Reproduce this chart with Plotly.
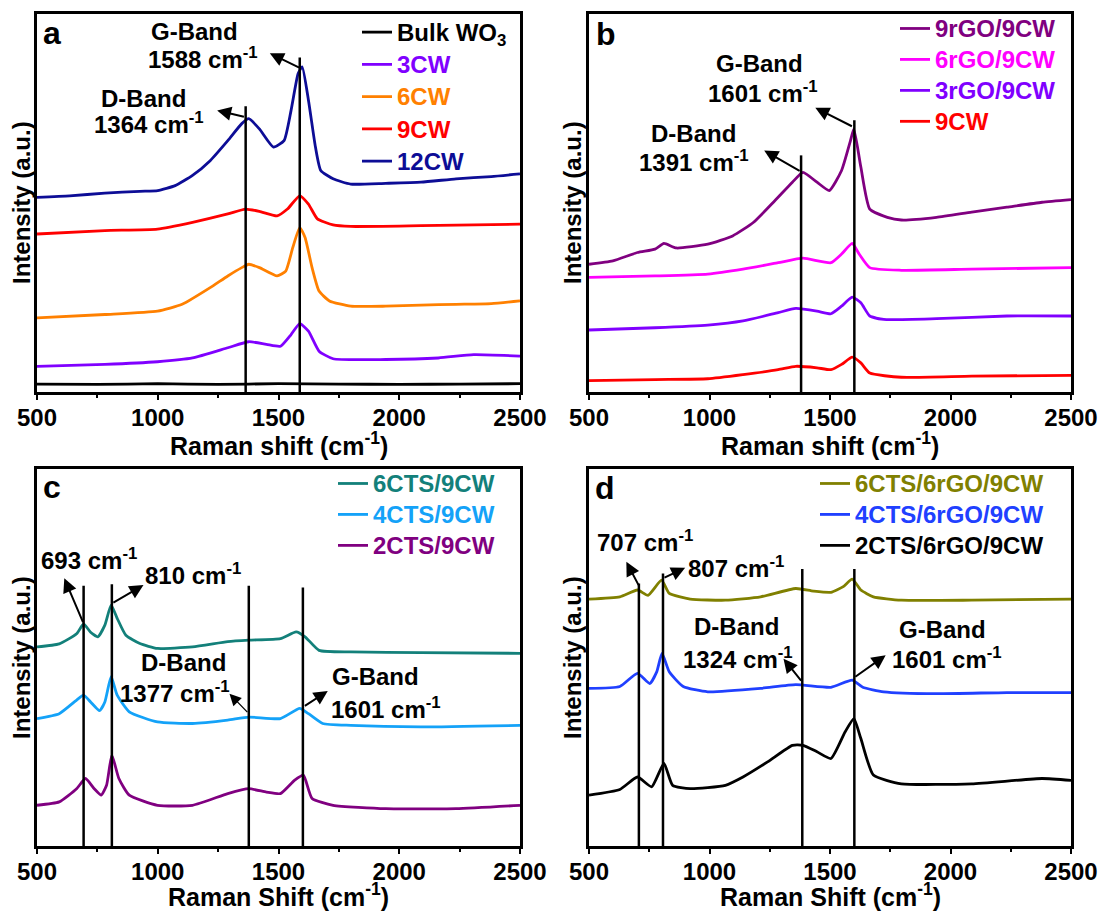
import plotly.graph_objects as go

FONT = "Liberation Sans, Arial, sans-serif"

# ---------------- Panel a ----------------
A_BULK_X = [500, 750, 1000, 1250, 1500, 1750, 2000, 2250, 2500]
A_BULK_Y = [2.1, 2.0, 2.2, 2.0, 2.2, 2.1, 2.0, 2.1, 2.2]
A_3CW_X = [500, 781, 999, 1144, 1290, 1377, 1450, 1508, 1552, 1588, 1624, 1668, 1726, 1944, 2162, 2308, 2500]
A_3CW_Y = [6.8, 7.3, 8.0, 9.0, 11.7, 13.3, 12.6, 12.1, 15.2, 18.1, 16.1, 10.8, 8.8, 8.6, 9.0, 9.9, 9.5]
A_6CW_X = [500, 781, 999, 1101, 1217, 1290, 1348, 1377, 1421, 1494, 1530, 1559, 1588, 1610, 1639, 1668, 1711, 1799, 1944, 2090, 2235, 2381, 2500]
A_6CW_Y = [19.6, 20.5, 21.4, 23.2, 27.6, 30.7, 32.9, 33.8, 32.9, 30.7, 32.0, 38.2, 43.5, 40.9, 32.9, 26.7, 24.1, 22.7, 22.7, 23.0, 23.2, 23.4, 24.1]
A_9CW_X = [500, 781, 999, 1144, 1290, 1363, 1421, 1494, 1537, 1588, 1624, 1661, 1726, 1799, 2090, 2500]
A_9CW_Y = [41.8, 42.7, 43.1, 44.9, 47.1, 48.4, 47.8, 46.6, 48.4, 51.9, 49.7, 45.8, 44.2, 43.8, 44.0, 44.4]
A_12CW_X = [500, 635, 781, 926, 1000, 1072, 1144, 1217, 1290, 1348, 1377, 1421, 1479, 1523, 1552, 1581, 1598, 1624, 1653, 1675, 1726, 1799, 1944, 2090, 2235, 2381, 2500]
A_12CW_Y = [51.5, 51.9, 52.6, 53.1, 53.3, 54.6, 57.3, 61.2, 66.5, 71.0, 72.3, 69.6, 64.8, 66.5, 74.5, 84.2, 86.0, 77.2, 64.8, 58.6, 56.4, 55.0, 55.2, 55.5, 56.4, 57.0, 57.7]
A_BAND_POS = [1364, 1588]
A_BAND_TOP = [75.6, 88.5]

# ---------------- Panel b ----------------
B_9RGO_X = [500, 599, 701, 774, 811, 862, 993, 1096, 1183, 1271, 1344, 1388, 1446, 1497, 1548, 1585, 1599, 1628, 1665, 1738, 1796, 1942, 2088, 2234, 2380, 2500]
B_9RGO_Y = [33.8, 34.7, 36.9, 37.8, 39.3, 38.1, 39.1, 41.3, 44.9, 50.6, 55.5, 58.1, 55.5, 53.3, 58.6, 66.5, 69.6, 59.5, 48.4, 46.2, 45.5, 46.2, 47.6, 48.9, 50.2, 50.9]
B_6RGO_X = [500, 774, 993, 1139, 1285, 1388, 1504, 1548, 1592, 1621, 1665, 1796, 2088, 2500]
B_6RGO_Y = [30.3, 30.7, 31.2, 32.5, 34.2, 35.4, 34.2, 36.5, 39.3, 36.5, 32.9, 32.2, 32.5, 32.9]
B_3RGO_X = [500, 774, 993, 1139, 1285, 1358, 1446, 1504, 1548, 1592, 1628, 1665, 1723, 1942, 2234, 2500]
B_3RGO_Y = [16.4, 17.0, 17.7, 18.8, 21.0, 22.1, 21.4, 20.7, 22.7, 25.1, 23.6, 20.1, 19.2, 19.4, 20.1, 20.1]
B_9CW_X = [500, 774, 993, 1139, 1285, 1358, 1446, 1504, 1548, 1592, 1628, 1665, 1796, 2088, 2500]
B_9CW_Y = [3.0, 3.3, 3.5, 4.6, 5.9, 6.8, 6.4, 5.9, 7.3, 9.2, 7.7, 5.0, 3.9, 4.2, 4.4]
B_BAND_POS = [1380, 1601]
B_BAND_TOP = [62.6, 71.9]

# ---------------- Panel c ----------------
C_6CTS_X = [500, 592, 664, 693, 722, 752, 781, 807, 832, 868, 926, 999, 1144, 1290, 1377, 1508, 1573, 1610, 1668, 1799, 2090, 2500]
C_6CTS_Y = [52.8, 53.6, 56.3, 58.9, 56.7, 55.5, 58.6, 63.9, 60.4, 55.9, 53.7, 52.4, 52.8, 54.2, 54.6, 55.0, 56.8, 55.5, 51.9, 51.5, 51.3, 51.1]
C_4CTS_X = [500, 592, 664, 693, 722, 759, 781, 807, 832, 882, 999, 1144, 1290, 1377, 1508, 1588, 1624, 1683, 1799, 2090, 2500]
C_4CTS_Y = [33.8, 35.1, 38.7, 40.0, 38.2, 35.9, 38.2, 44.9, 40.0, 35.6, 32.9, 32.5, 33.4, 34.2, 33.8, 36.5, 35.1, 32.5, 32.0, 31.6, 32.0]
C_2CTS_X = [500, 592, 664, 701, 737, 766, 788, 810, 839, 882, 999, 1144, 1290, 1377, 1450, 1508, 1566, 1603, 1639, 1726, 1944, 2235, 2500]
C_2CTS_Y = [10.8, 11.7, 15.2, 17.9, 15.2, 13.5, 16.1, 24.1, 17.9, 13.5, 10.8, 10.8, 13.9, 15.2, 14.3, 13.9, 17.4, 18.8, 12.6, 10.8, 9.9, 9.9, 10.8]
C_BAND_POS = [693, 810, 1377, 1601]
C_BAND_TOP = [69.0, 69.4, 69.0, 68.6]

# ---------------- Panel d ----------------
D_6CTS_X = [500, 628, 701, 745, 801, 833, 920, 1066, 1212, 1358, 1431, 1504, 1555, 1592, 1628, 1680, 1796, 2088, 2500]
D_6CTS_Y = [65.5, 66.1, 67.9, 66.5, 70.5, 67.0, 65.5, 65.2, 66.1, 68.3, 67.6, 67.3, 68.8, 70.8, 67.9, 66.1, 65.2, 65.2, 65.5]
D_4CTS_X = [500, 628, 701, 752, 781, 803, 833, 891, 993, 1212, 1358, 1504, 1592, 1636, 1723, 1942, 2234, 2500]
D_4CTS_Y = [41.8, 42.3, 45.8, 43.1, 46.2, 51.1, 46.2, 42.3, 40.9, 41.8, 42.8, 42.1, 44.0, 42.1, 40.9, 40.4, 40.7, 40.7]
D_2CTS_X = [500, 628, 701, 760, 811, 847, 920, 1066, 1139, 1241, 1344, 1388, 1446, 1504, 1563, 1599, 1628, 1680, 1796, 2088, 2380, 2500]
D_2CTS_Y = [13.5, 15.0, 18.3, 15.7, 21.9, 16.1, 15.2, 16.1, 18.3, 22.3, 26.7, 26.7, 25.0, 23.2, 30.3, 33.8, 28.5, 18.8, 16.5, 16.5, 17.9, 17.4]
D_BAND_POS = [707, 807, 1385, 1601]
D_BAND_TOP = [69.6, 72.3, 73.5, 73.5]

SUP = "<sup>-1</sup>"

# series: (panel index, name, colour, x, y)
SERIES = [
    (1, "Bulk WO<sub>3</sub>", "#000000", A_BULK_X, A_BULK_Y),
    (1, "3CW", "#8000FF", A_3CW_X, A_3CW_Y),
    (1, "6CW", "#FF8000", A_6CW_X, A_6CW_Y),
    (1, "9CW", "#FF0000", A_9CW_X, A_9CW_Y),
    (1, "12CW", "#0D0D96", A_12CW_X, A_12CW_Y),
    (2, "9rGO/9CW", "#800080", B_9RGO_X, B_9RGO_Y),
    (2, "6rGO/9CW", "#FF00FF", B_6RGO_X, B_6RGO_Y),
    (2, "3rGO/9CW", "#8000FF", B_3RGO_X, B_3RGO_Y),
    (2, "9CW", "#FF0000", B_9CW_X, B_9CW_Y),
    (3, "6CTS/9CW", "#13807A", C_6CTS_X, C_6CTS_Y),
    (3, "4CTS/9CW", "#14A2F8", C_4CTS_X, C_4CTS_Y),
    (3, "2CTS/9CW", "#800080", C_2CTS_X, C_2CTS_Y),
    (4, "6CTS/6rGO/9CW", "#808000", D_6CTS_X, D_6CTS_Y),
    (4, "4CTS/6rGO/9CW", "#2040FF", D_4CTS_X, D_4CTS_Y),
    (4, "2CTS/6rGO/9CW", "#000000", D_2CTS_X, D_2CTS_Y),
]

BANDS = [(1, A_BAND_POS, A_BAND_TOP), (2, B_BAND_POS, B_BAND_TOP),
         (3, C_BAND_POS, C_BAND_TOP), (4, D_BAND_POS, D_BAND_TOP)]

# text labels: (panel, x, y, text)
LABELS = [
    (1, 1152, 95.3, "G-Band"), (1, 1188, 88.4, "1588 cm" + SUP),
    (1, 941, 77.6, "D-Band"), (1, 963, 71.2, "1364 cm" + SUP),
    (2, 1208, 86.9, "G-Band"), (2, 1220, 79.4, "1601 cm" + SUP),
    (2, 935, 68.5, "D-Band"), (2, 935, 61.0, "1391 cm" + SUP),
    (3, 715, 76.1, "693 cm" + SUP), (3, 1144, 72.1, "810 cm" + SUP),
    (3, 1108, 48.8, "D-Band"), (3, 1072, 40.8, "1377 cm" + SUP),
    (3, 1901, 44.9, "G-Band"), (3, 1944, 36.7, "1601 cm" + SUP),
    (4, 734, 81.0, "707 cm" + SUP), (4, 1110, 73.9, "807 cm" + SUP),
    (4, 1110, 58.1, "D-Band"), (4, 1117, 50.0, "1324 cm" + SUP),
    (4, 1968, 57.3, "G-Band"), (4, 1986, 50.0, "1601 cm" + SUP),
]

# arrows: (panel, tip_x, tip_y, tail_x, tail_y, width)
ARROWS = [
    (1, 1246, 74.5, 1363, 72.7, 2), (1, 1464, 89.6, 1592, 85.6, 2),
    (2, 1227, 63.9, 1380, 58.3, 2), (2, 1439, 75.2, 1597, 70.1, 2),
    (3, 613, 71.0, 693, 59.0, 2), (3, 941, 69.2, 810, 64.3, 2),
    (3, 1297, 40.4, 1377, 35.1, 1.3), (3, 1704, 41.1, 1603, 36.9, 2),
    (4, 655, 75.4, 709, 68.8, 2), (4, 899, 73.8, 807, 71.0, 2),
    (4, 1307, 49.7, 1385, 43.5, 2), (4, 1731, 50.6, 1599, 44.6, 2),
]

# panel letters: (panel, letter, x-domain frac, y-domain frac)
PANEL_LETTERS = [(1, "a", 0.031, 0.950), (2, "b", 0.035, 0.946),
                 (3, "c", 0.031, 0.952), (4, "d", 0.033, 0.950)]
XTITLES = {1: "Raman shift (cm" + SUP + ")", 2: "Raman shift (cm" + SUP + ")",
           3: "Raman Shift (cm" + SUP + ")", 4: "Raman Shift (cm" + SUP + ")"}
YTITLE = "Intensity (a.u.)"

W, H = 1103, 911
XDOM = {1: [37 / W, 520 / W], 2: [589 / W, 1071 / W], 3: [37 / W, 520 / W], 4: [589 / W, 1071 / W]}
YDOM = {1: [1 - 392 / H, 1 - 14 / H], 2: [1 - 392 / H, 1 - 14 / H],
        3: [1 - 846 / H, 1 - 469 / H], 4: [1 - 846 / H, 1 - 469 / H]}
LEG_POS = {1: (357 / W, 1 - 11 / H), 2: (895 / W, 1 - 8 / H),
           3: (333 / W, 1 - 463 / H), 4: (815 / W, 1 - 463 / H)}
LEG_FONT = {1: 22.5, 2: 21.5, 3: 21.5, 4: 21.5}
# axis-title centres in figure pixels
XTITLE_POS = {1: (278.5, 444), 2: (830, 444), 3: (278.5, 895), 4: (830, 895)}
YTITLE_POS = {1: (21, 203), 2: (572, 203), 3: (21, 658), 4: (572, 658)}


def ax_suffix(p):
    return "" if p == 1 else str(p)


def legend_id(p):
    return "legend" if p == 1 else "legend%d" % p


fig = go.Figure()

for p, name, col, xs, ys in SERIES:
    s = ax_suffix(p)
    fig.add_trace(go.Scatter(
        x=xs, y=ys, mode="lines",
        name="<b><span style='color:%s;font-size:24px'>%s</span></b>" % (col, name),
        line=dict(color=col, width=2.8, shape="spline", smoothing=0.5),
        xaxis="x" + s, yaxis="y" + s, legend=legend_id(p), hoverinfo="skip"))

for p, pos, top in BANDS:
    s = ax_suffix(p)
    for xv, tv in zip(pos, top):
        fig.add_trace(go.Scatter(
            x=[xv, xv], y=[0, tv], mode="lines", showlegend=False,
            line=dict(color="black", width=2.5), xaxis="x" + s, yaxis="y" + s,
            hoverinfo="skip"))

annotations = []
for p, xv, yv, txt in LABELS:
    s = ax_suffix(p)
    annotations.append(dict(x=xv, y=yv, xref="x" + s, yref="y" + s, text="<b>%s</b>" % txt,
                            showarrow=False, font=dict(family=FONT, size=24, color="black")))
for p, tx, ty, sx, sy, wdt in ARROWS:
    s = ax_suffix(p)
    annotations.append(dict(x=tx, y=ty, xref="x" + s, yref="y" + s, ax=sx, ay=sy,
                            axref="x" + s, ayref="y" + s, text="", showarrow=True,
                            arrowhead=2, arrowsize=1.4 if wdt >= 2 else 1.8, arrowwidth=wdt,
                            arrowcolor="black", standoff=0, startstandoff=0))
for p, letter, fx, fy in PANEL_LETTERS:
    s = ax_suffix(p)
    annotations.append(dict(x=fx, y=fy, xref="x%s domain" % s, yref="y%s domain" % s,
                            xanchor="center", yanchor="middle", text="<b>%s</b>" % letter,
                            showarrow=False, font=dict(family=FONT, size=32, color="black")))
for p in (1, 2, 3, 4):
    xp, yp = XTITLE_POS[p]
    annotations.append(dict(x=xp / W, y=1 - yp / H, xref="paper", yref="paper",
                            xanchor="center", yanchor="middle", showarrow=False,
                            text="<b>%s</b>" % XTITLES[p],
                            font=dict(family=FONT, size=25, color="black")))
    xp, yp = YTITLE_POS[p]
    annotations.append(dict(x=xp / W, y=1 - yp / H, xref="paper", yref="paper",
                            xanchor="center", yanchor="middle", showarrow=False,
                            textangle=-90, text="<b>%s</b>" % YTITLE,
                            font=dict(family=FONT, size=24, color="black")))

layout = dict(
    width=W, height=H, margin=dict(l=0, r=0, t=0, b=0, autoexpand=False),
    paper_bgcolor="white", plot_bgcolor="white",
    font=dict(family=FONT, size=24, color="black"),
    annotations=annotations,
)

for p in (1, 2, 3, 4):
    s = ax_suffix(p)
    layout["xaxis" + s] = dict(
        domain=XDOM[p], range=[500, 2500], anchor="y" + s, automargin=False,
        tickvals=[500, 1000, 1500, 2000, 2500], ticktext=["<b>%d</b>" % v for v in [500, 1000, 1500, 2000, 2500]],
        ticks="outside", ticklen=5, tickwidth=2, tickcolor="black",
        minor=dict(dtick=250, tick0=500, ticks="outside", ticklen=3, tickwidth=2, tickcolor="black"),
        showline=True, linewidth=2.5, linecolor="black", mirror=True,
        showgrid=False, zeroline=False, ticklabelstandoff=-3,
        tickfont=dict(family=FONT, size=24, color="black"),
    )
    layout["yaxis" + s] = dict(
        domain=YDOM[p], range=[0, 100], anchor="x" + s, automargin=False,
        showticklabels=False, ticks="", showgrid=False, zeroline=False,
        showline=True, linewidth=2.5, linecolor="black", mirror=True,
    )
    lx, ly = LEG_POS[p]
    layout[legend_id(p)] = dict(
        x=lx, y=ly, xanchor="left", yanchor="top", bgcolor="rgba(0,0,0,0)",
        borderwidth=0, font=dict(family=FONT, size=LEG_FONT[p], color="black"),
        tracegroupgap=0, itemclick=False,
    )

fig.update_layout(**layout)
fig.write_html("out.html")
